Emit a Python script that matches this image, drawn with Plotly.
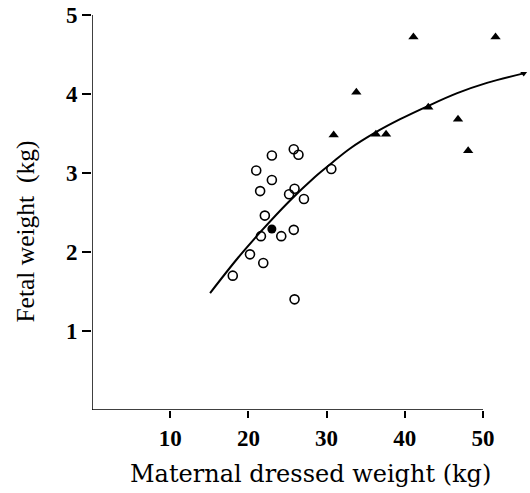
import plotly.graph_objects as go

# Open circles
open_x = [25.8, 26.4, 23.0, 21.0, 30.6, 23.0, 21.5, 25.2, 25.9, 27.1, 22.1, 21.6, 24.2, 25.8, 20.2, 21.9, 18.0, 25.9]
open_y = [3.30, 3.23, 3.22, 3.03, 3.05, 2.91, 2.77, 2.73, 2.80, 2.67, 2.46, 2.20, 2.20, 2.28, 1.97, 1.86, 1.70, 1.40]
# Filled circle
fill_x = [23.0]
fill_y = [2.29]
# Filled triangles
tri_x = [41.1, 51.6, 33.8, 30.9, 36.3, 37.6, 43.0, 46.8, 48.1]
tri_y = [4.72, 4.72, 4.02, 3.48, 3.49, 3.49, 3.83, 3.68, 3.28]
# small mark at the end of the curve
end_x = [55.2]
end_y = [4.26]
# Fitted curve
curve_x = [15.1, 18.7, 21.6, 25.1, 28.5, 30.7, 33.0, 36.2, 39.4, 42.8, 46.7, 50.5, 55.2]
curve_y = [1.48, 1.93, 2.26, 2.63, 2.95, 3.13, 3.31, 3.51, 3.68, 3.84, 4.01, 4.14, 4.26]

x_ticks = [10, 20, 30, 40, 50]
y_ticks = [1, 2, 3, 4, 5]

fig = go.Figure()
fig.add_trace(go.Scatter(x=curve_x, y=curve_y, mode="lines",
                         line=dict(color="black", width=2, shape="spline", smoothing=1.0),
                         showlegend=False, hoverinfo="skip"))
fig.add_trace(go.Scatter(x=open_x, y=open_y, mode="markers",
                         marker=dict(symbol="circle-open", size=9, color="black", line=dict(width=1.6)),
                         showlegend=False))
fig.add_trace(go.Scatter(x=fill_x, y=fill_y, mode="markers",
                         marker=dict(symbol="circle", size=9, color="black"), showlegend=False))
fig.add_trace(go.Scatter(x=tri_x, y=tri_y, mode="markers",
                         marker=dict(symbol="triangle-up", size=9, color="black"), showlegend=False))
fig.add_trace(go.Scatter(x=end_x, y=end_y, mode="markers",
                         marker=dict(symbol="triangle-down", size=6, color="black"), showlegend=False))

# axis lines (x-axis line stops at 50, y-axis line stops at 5)
fig.add_shape(type="line", xref="x", yref="y", x0=0, x1=50, y0=0, y1=0, line=dict(color="black", width=1.5))
fig.add_shape(type="line", xref="x", yref="y", x0=0, x1=0, y0=0, y1=5, line=dict(color="black", width=1.5))

tickfont = dict(family="Liberation Serif", size=23, color="black", weight="bold")
fig.update_xaxes(range=[0, 55.75], tickvals=x_ticks, ticktext=[str(v) for v in x_ticks],
                 ticks="outside", ticklen=7, tickwidth=1.5, tickcolor="black",
                 showgrid=False, zeroline=False, showline=False, tickfont=tickfont)
fig.update_yaxes(range=[0, 5.1], tickvals=y_ticks, ticktext=[str(v) for v in y_ticks],
                 ticks="outside", ticklen=9, tickwidth=1.5, tickcolor="black",
                 showgrid=False, zeroline=False, showline=False, tickfont=tickfont)

titlefont = dict(family="DejaVu Serif", size=24, color="black")
fig.add_annotation(text="Maternal dressed weight (kg)", xref="paper", yref="paper", x=0.5, y=-0.159,
                   showarrow=False, font=titlefont, xanchor="center", yanchor="middle")
fig.add_annotation(text="Fetal weight  (kg)", xref="paper", yref="paper", x=-0.152, y=0.442,
                   showarrow=False, font=dict(family="Liberation Serif", size=25.5, color="black"),
                   textangle=-90, xanchor="center", yanchor="middle")

fig.update_layout(width=530, height=493, margin=dict(l=92, r=2, t=7, b=83),
                  plot_bgcolor="white", paper_bgcolor="white")
fig.write_html("out.html")
